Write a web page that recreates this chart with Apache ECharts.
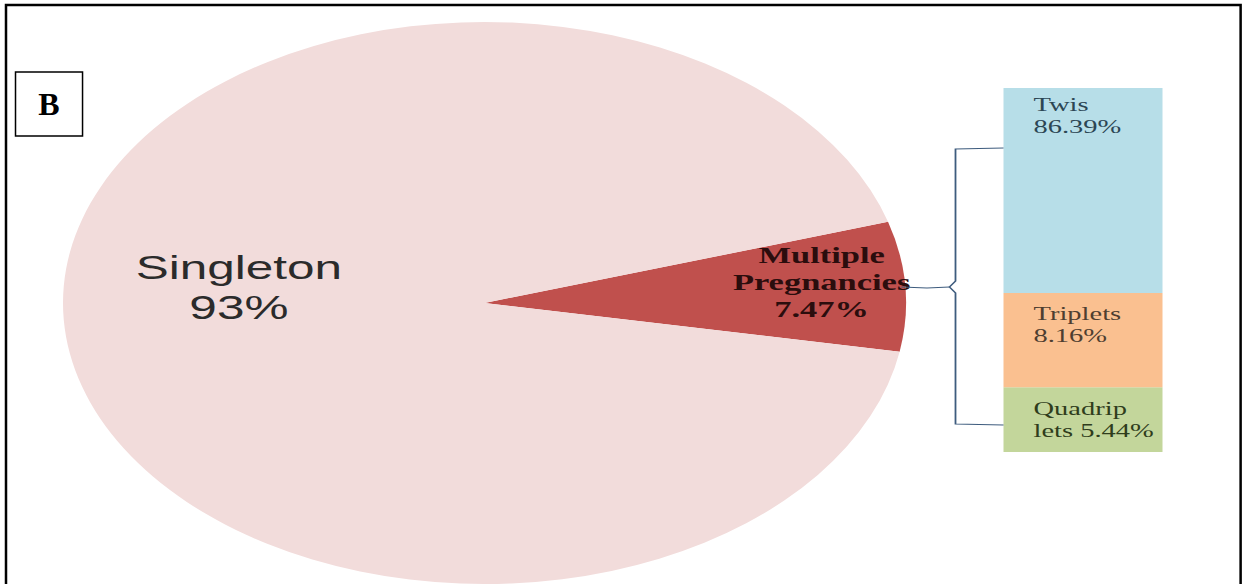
<!DOCTYPE html>
<html>
<head>
<meta charset="utf-8">
<script src="https://cdn.jsdelivr.net/npm/echarts@6/dist/echarts.min.js"></script>
<style>
  html, body { margin: 0; padding: 0; background: #ffffff; overflow: hidden; }
  #wrap { width: 1243px; height: 584px; overflow: hidden; position: relative; }
  #chart { height: 584px; transform-origin: 0 0; }
</style>
</head>
<body>
<div id="wrap"><div id="chart"></div></div>
<script>
// Pregnancy outcome split (pie) and breakdown of multiple pregnancies (stacked bar)
const pieNames = ['Multiple\nPregnancies', 'Singleton'];
const pieValues = [7.47, 93];
const pieColors = ['#c0504d', '#f2dcdb'];

const multipleNames = ['Twis', 'Triplets', 'Quadrip\nlets'];
const multipleValues = [86.39, 8.16, 5.44];
const multipleColors = ['#b7dee8', '#fac090', '#c3d69b'];
const multipleTextColors = ['#2c4654', '#4e3e30', '#2f3d1c'];

const panelLetter = 'B';

// The figure is drawn at a narrower width and stretched horizontally.
const STRETCH = 1.5;
const W = 1243, H = 584;
const el = document.getElementById('chart');
el.style.width = (W / STRETCH) + 'px';
el.style.transform = 'scaleX(' + STRETCH + ')';

const chart = echarts.init(el, null, { renderer: 'svg' });

const pieLabelStyles = [
  { offset: [81.5, -12.5], fontFamily: 'Liberation Serif', fontWeight: 'bold', fontSize: 23, lineHeight: 27, color: '#2b0d0d' },
  { offset: [-20.5, -24], fontFamily: 'Liberation Sans', fontSize: 33, lineHeight: 40, color: '#2b2b2b' }
];
const barLabelOffsets = [[20, 5], [20, 9], [20, 10]];

const barSeries = multipleNames.map((name, i) => ({
  type: 'bar',
  name: name,
  stack: 'multiple',
  barWidth: '100%',
  data: [multipleValues[i]],
  itemStyle: { color: multipleColors[i] },
  label: {
    show: true,
    position: 'insideTopLeft',
    distance: 0,
    offset: barLabelOffsets[i],
    fontFamily: 'Liberation Serif',
    fontSize: 19,
    lineHeight: 22,
    color: multipleTextColors[i],
    formatter: p => p.seriesName + (p.seriesName.indexOf('\n') >= 0 ? ' ' : '\n') + p.value + '%'
  },
  emphasis: { disabled: true },
  silent: true
})).reverse();

const inv = 1 / STRETCH;

chart.setOption({
  animation: false,
  backgroundColor: '#ffffff',
  grid: { left: 669, top: 88, width: 106, height: 364 },
  xAxis: { type: 'category', data: ['multiple'], show: false },
  yAxis: { type: 'log', min: 2.9, max: 100, startValue: 2.9, show: false, splitLine: { show: false } },
  series: [
    {
      type: 'pie',
      center: [323, 303],
      radius: 281,
      startAngle: 16.8,
      clockwise: true,
      silent: true,
      emphasis: { disabled: true },
      labelLine: { show: false },
      data: pieNames.map((name, i) => ({
        name: name,
        value: pieValues[i],
        itemStyle: { color: pieColors[i] },
        label: Object.assign({
          show: true,
          position: 'inside',
          align: 'center',
          formatter: p => p.name + '\n' + p.value + '%'
        }, pieLabelStyles[i])
      }))
    },
    ...barSeries
  ],
  graphic: [
    {
      type: 'polyline',
      z: 20,
      shape: { points: [[669, 148], [637, 149], [637, 281], [633, 287], [637, 293], [637, 424], [669, 425]] },
      style: { stroke: '#3e5c7e', lineWidth: 1.2, fill: null }
    },
    {
      type: 'polyline',
      z: 20,
      shape: { points: [[633, 287], [618, 288], [601, 287]] },
      style: { stroke: '#3e5c7e', lineWidth: 1.2, fill: null }
    },
    {
      // frame and panel letter use unstretched page coordinates
      type: 'group',
      scaleX: inv,
      x: 0, y: 0,
      z: 30,
      children: [
        {
          type: 'rect',
          shape: { x: 6, y: 5, width: 1234, height: 620 },
          style: { fill: null, stroke: '#000000', lineWidth: 2.5 }
        },
        {
          type: 'rect',
          shape: { x: 15.5, y: 72, width: 67, height: 64 },
          style: { fill: '#ffffff', stroke: '#000000', lineWidth: 1.5 }
        },
        {
          type: 'text',
          x: 49, y: 104,
          style: {
            text: panelLetter,
            fontFamily: 'Liberation Serif',
            fontWeight: 'bold',
            fontSize: 32,
            fill: '#000000',
            align: 'center',
            verticalAlign: 'middle'
          }
        }
      ]
    }
  ]
});
</script>
</body>
</html>
